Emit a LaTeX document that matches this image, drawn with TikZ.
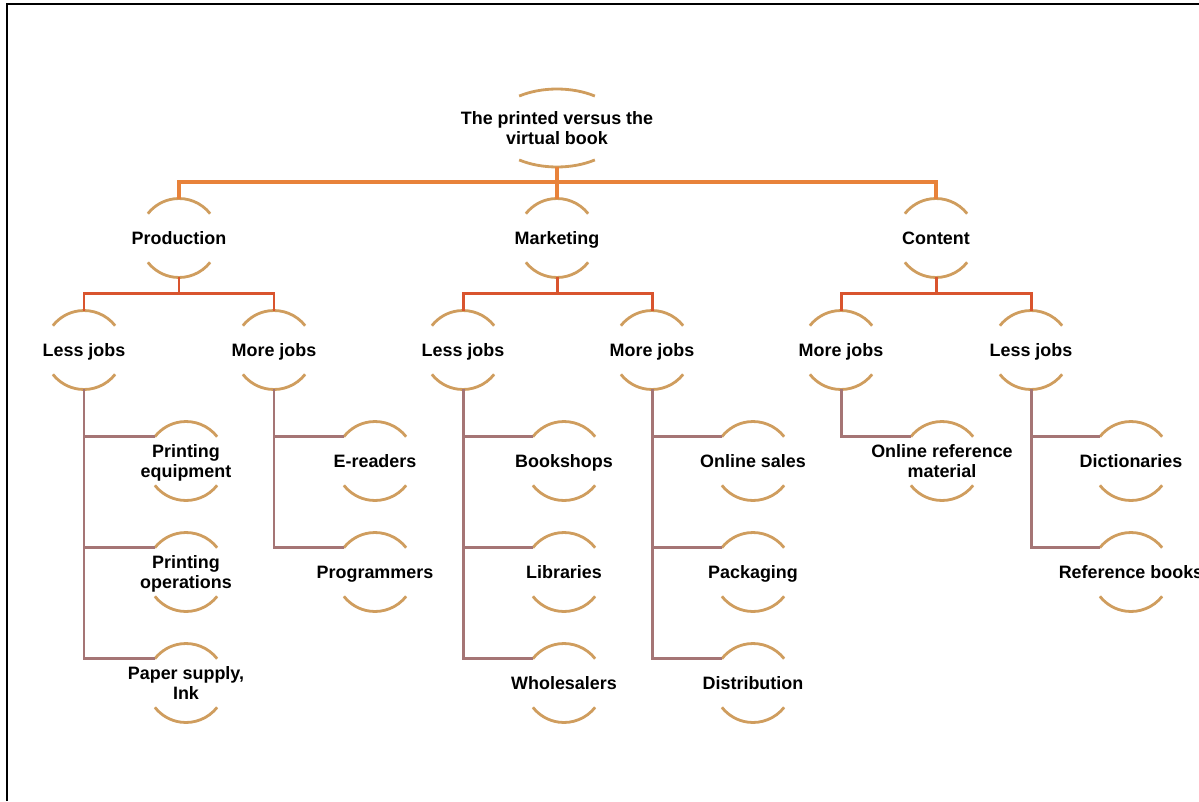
\documentclass[tikz,border=0pt]{standalone}
\usepackage{fontspec}
\setmainfont{Liberation Sans}
\usetikzlibrary{calc}
\definecolor{rimtan}{HTML}{CF9D5E}
\definecolor{trunkorange}{HTML}{E8823A}
\definecolor{branchred}{HTML}{D9542E}
\definecolor{twigmauve}{HTML}{A57575}

\begin{document}
\begin{tikzpicture}[
  x=0.02cm, y=-0.02cm,
  every node/.style={font=\fontsize{10.2}{11.2}\selectfont\bfseries, align=center, inner sep=0pt, text depth=0pt},
  rim/.style={draw=rimtan, line width=1.6pt},
  trunk/.style={draw=trunkorange, line width=1.8pt},
  branch/.style={draw=branchred, line width=1.7pt},
  twig/.style={draw=twigmauve, line width=1.7pt}
]
\useasboundingbox (0,0) rectangle (1199,801);
% Frame (cut at right and bottom)
\draw[line width=1.4pt] (7,801) -- (7,4) -- (1199,4);

% Root
\node (root) at (557,128) {The printed versus the\\virtual book};
% Level 1
\node (prod) at (179,238) {Production};
\node (mkt)  at (557,238) {Marketing};
\node (cont) at (936,238) {Content};
% Level 2
\node (prodless) at (84,350)   {Less jobs};
\node (prodmore) at (274,350)  {More jobs};
\node (mktless)  at (463,350)  {Less jobs};
\node (mktmore)  at (652,350)  {More jobs};
\node (contmore) at (841,350)  {More jobs};
\node (contless) at (1031,350) {Less jobs};
% Leaves
\node (equip)  at (186,461) {Printing\\equipment};
\node (opers)  at (186,572) {Printing\\operations};
\node (paper)  at (186,683) {Paper supply,\\Ink};
\node (ereader) at (375,461) {E-readers};
\node (progr)   at (375,572) {Programmers};
\node (shops)  at (564,461) {Bookshops};
\node (libs)   at (564,572) {Libraries};
\node (whole)  at (564,683) {Wholesalers};
\node (online) at (753,461) {Online sales};
\node (pack)   at (753,572) {Packaging};
\node (distr)  at (753,683) {Distribution};
\node (refmat) at (942,461) {Online reference\\material};
\node (dict)   at (1131,461) {Dictionaries};
\node (refbk)  at (1131,572) {Reference books};

% Rims of the root (flatter)
\draw[rim] ([shift={(55:1.32cm and 0.78cm)}]root.center) arc[start angle=55, end angle=125, x radius=1.32cm, y radius=0.78cm];
\draw[rim] ([shift={(-55:1.32cm and 0.78cm)}]root.center) arc[start angle=-55, end angle=-125, x radius=1.32cm, y radius=0.78cm];
% Rims of all other nodes
\foreach \n in {prod,mkt,cont,prodless,prodmore,mktless,mktmore,contmore,contless,
  equip,opers,paper,ereader,progr,shops,libs,whole,online,pack,distr,refmat,dict,refbk} {
  \draw[rim] ([shift={(38:0.79cm)}]\n.center) arc[start angle=38, end angle=142, radius=0.79cm];
  \draw[rim] ([shift={(-38:0.79cm)}]\n.center) arc[start angle=-38, end angle=-142, radius=0.79cm];
}

% Connectors
\foreach \a/\b in {root/prod, root/mkt, root/cont}
  \draw[trunk] ([yshift=-0.78cm]\a.center) -- ++(0,15) -| ([yshift=0.79cm]\b.center);
\foreach \a/\b in {prod/prodless, prod/prodmore, mkt/mktless, mkt/mktmore, cont/contmore, cont/contless}
  \draw[branch] ([yshift=-0.79cm]\a.center) -- ++(0,16) -| ([yshift=0.79cm]\b.center);
\foreach \a/\b in {prodless/equip, prodless/opers, prodless/paper, prodmore/ereader, prodmore/progr,
  mktless/shops, mktless/libs, mktless/whole, mktmore/online, mktmore/pack, mktmore/distr,
  contmore/refmat, contless/dict, contless/refbk}
  \draw[twig] ([yshift=-0.79cm]\a.center) |- ([shift={(142:0.79cm)}]\b.center);

\end{tikzpicture}
\end{document}
